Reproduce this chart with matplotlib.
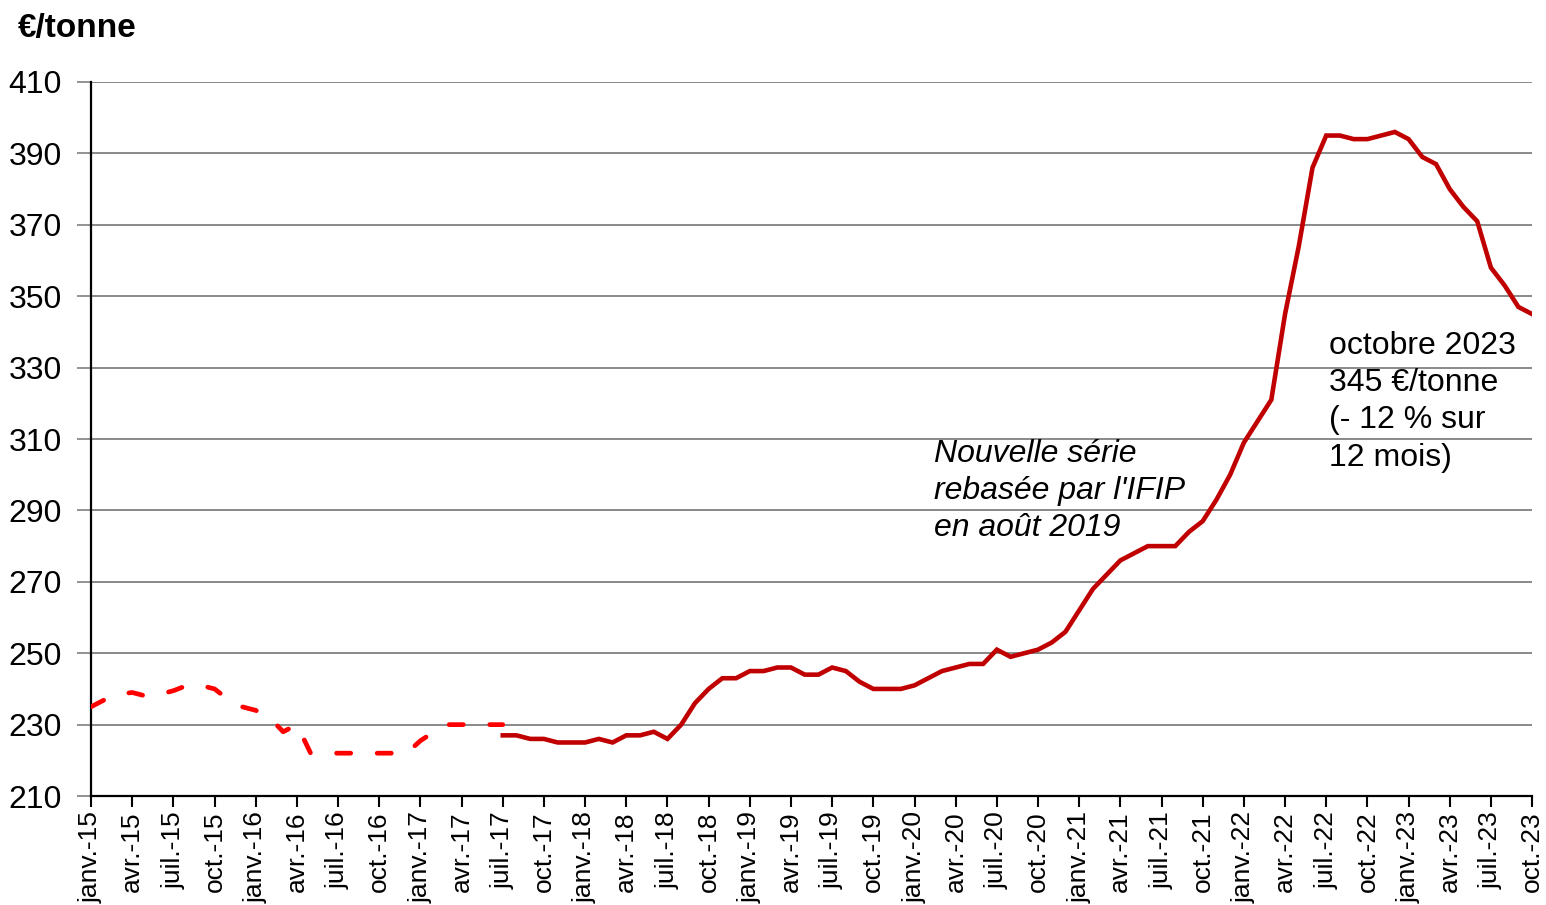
import matplotlib
matplotlib.use('Agg')
import matplotlib.pyplot as plt

plt.rcParams['font.family'] = ['Liberation Sans', 'DejaVu Sans']

# monthly series, janv.-15 ... oct.-23 (106 months)
months_abbr = ['janv.', 'avr.', 'juil.', 'oct.']
years = list(range(15, 24))

# old series (dashed), janv.-15 -> juil.-17
old_series = [235, 237, 238.5, 239, 238, 238.5, 239.5, 241, 241, 240,
              237, 235, 234, 232, 228, 230, 222, 222, 222, 222,
              222, 222, 222, 222, 225.5, 228, 230, 230, 230, 230,
              230]

# new series rebased by IFIP (solid), juil.-17 -> oct.-23
new_series = [227, 227, 226, 226, 225, 225, 225, 226, 225, 227,
              227, 228, 226, 230, 236, 240, 243, 243, 245, 245,
              246, 246, 244, 244, 246, 245, 242, 240, 240, 240,
              241, 243, 245, 246, 247, 247, 251, 249, 250, 251,
              253, 256, 262, 268, 272, 276, 278, 280, 280, 280,
              284, 287, 293, 300, 309, 315, 321, 345, 364, 386,
              395, 395, 394, 394, 395, 396, 394, 389, 387, 380,
              375, 371, 358, 353, 347, 345]

n_months = 106
old_x = list(range(len(old_series)))
new_x = list(range(30, 30 + len(new_series)))

tick_pos = list(range(0, n_months, 3))
tick_labels = []
for y in years:
    for m in months_abbr:
        tick_labels.append(f'{m}-{y}')
tick_labels = tick_labels[:len(tick_pos)]

fig = plt.figure(figsize=(15.46, 9.05), dpi=100)
ax = fig.add_axes([0.0589, 0.1204, 0.9321, 0.789])

ax.plot(old_x, old_series, color='#FF0000', lw=3.4, dashes=(3.0, 5.6),
        dash_capstyle='round', zorder=3)
ax.plot(new_x, new_series, color='#C00000', lw=3.3, solid_joinstyle='miter',
        zorder=4)

ax.set_xlim(0, 105)
ax.set_ylim(210, 410)
ax.set_yticks(range(210, 411, 20))
ax.set_xticks(tick_pos)
ax.set_xticklabels(tick_labels, rotation=90, fontsize=19)
ax.tick_params(axis='y', labelsize=23, length=10, color='#808080',
               width=1.2, pad=11)
ax.tick_params(axis='x', length=8, width=1.5, color='black', pad=3)

ax.grid(axis='y', color='#808080', lw=1.3)
ax.set_axisbelow(True)
for s in ['top', 'right']:
    ax.spines[s].set_visible(False)
ax.spines['left'].set_linewidth(1.6)
ax.spines['bottom'].set_linewidth(1.6)

fig.text(0.0116, 0.968, '€/tonne', fontsize=24, fontweight='bold',
         ha='left', va='center')

ax.text(61.4, 295.4, "Nouvelle série\nrebasée par l'IFIP\nen août 2019",
        fontsize=23, style='italic', ha='left', va='center', linespacing=1.31)
ax.text(90.2, 320.4, 'octobre 2023\n345 €/tonne\n(- 12 % sur\n12 mois)',
        fontsize=23, ha='left', va='center', linespacing=1.31)

fig.savefig('out.png', dpi=100)
